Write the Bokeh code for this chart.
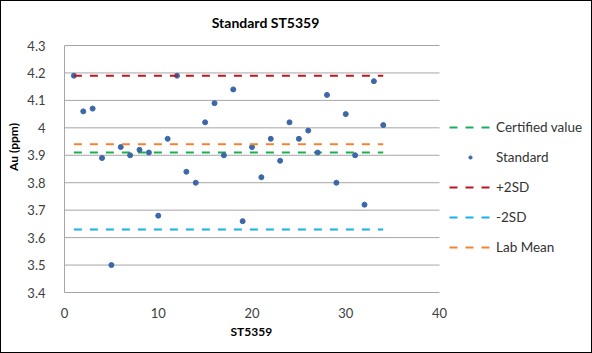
from bokeh.plotting import figure
from bokeh.models import Legend, LegendItem, FixedTicker, Range1d, Label, Title
from bokeh.embed import file_html
from bokeh.resources import INLINE

# ---- data ----
sample_no = list(range(1, 35))
au_ppm = [4.19, 4.06, 4.07, 3.89, 3.50, 3.93, 3.90, 3.92, 3.91, 3.68,
          3.96, 4.19, 3.84, 3.80, 4.02, 4.09, 3.90, 4.14, 3.66, 3.93,
          3.82, 3.96, 3.88, 4.02, 3.96, 3.99, 3.91, 4.12, 3.80, 4.05,
          3.90, 3.72, 4.17, 4.01]
certified_value = 3.91
plus_2sd = 4.19
minus_2sd = 3.63
lab_mean = 3.94
x_ticks = [0, 10, 20, 30, 40]
y_ticks = [3.4, 3.5, 3.6, 3.7, 3.8, 3.9, 4.0, 4.1, 4.2, 4.3]
y_tick_labels = ["3.4", "3.5", "3.6", "3.7", "3.8", "3.9", "4", "4.1", "4.2", "4.3"]
title_text = "Standard ST5359"
x_title = "ST5359"
y_title = "Au (ppm)"

FONT = "Lato"

# frame spans from the y axis to the right/top edges so the legend and
# title (drawn inside the frame) are not clipped; axes are bounded to data span
X_PX_PER_UNIT = 375 / 40.0
Y_PX_PER_UNIT = 247 / 0.9
FRAME_W = 592 - 63
FRAME_H = 353 - 62
x_end = x_ticks[0] + FRAME_W / X_PX_PER_UNIT
y_end = y_ticks[0] + FRAME_H / Y_PX_PER_UNIT

p = figure(width=592, height=353, output_backend="svg", toolbar_location=None,
           x_range=Range1d(x_ticks[0], x_end), y_range=Range1d(y_ticks[0], y_end),
           min_border_left=63, min_border_right=0, min_border_top=0,
           min_border_bottom=62)
p.styles = {"border": "1px solid black", "box-sizing": "border-box"}

p.outline_line_color = None
p.xgrid.grid_line_color = None
p.ygrid.grid_line_color = None

# horizontal gridlines limited to the x axis span
p.segment(x0=x_ticks[0], x1=x_ticks[-1], y0=y_ticks[1:], y1=y_ticks[1:],
          line_color="#A6A6A6", line_width=1)

p.xaxis.ticker = FixedTicker(ticks=x_ticks)
p.yaxis.ticker = FixedTicker(ticks=y_ticks)
p.xaxis.bounds = (x_ticks[0], x_ticks[-1])
p.yaxis.bounds = (y_ticks[0], y_ticks[-1])
p.yaxis.major_label_overrides = {t: l for t, l in zip(y_ticks, y_tick_labels)}
for ax in (p.xaxis, p.yaxis):
    ax.axis_line_color = "#A6A6A6"
    ax.major_tick_line_color = None
    ax.minor_tick_line_color = None
    ax.major_label_text_font = FONT
    ax.major_label_text_font_size = "13px"
    ax.major_label_text_color = "#404040"
    ax.axis_label_text_font = FONT
    ax.axis_label_text_font_size = "12px"
    ax.axis_label_text_font_style = "bold"
    ax.axis_label_text_color = "#000000"
p.yaxis.axis_label = y_title
p.yaxis.major_label_standoff = 13
p.xaxis.major_label_standoff = 9
p.yaxis.axis_label_standoff = 3

# x axis title centred under the bounded axis
p.add_layout(Title(text=x_title, align="left", offset=166, standoff=2,
                   text_font=FONT, text_font_size="12px", text_font_style="bold",
                   text_color="#000000"), "below")

x_line = [min(sample_no), max(sample_no)]
dash = "8 8"
r_cert = p.line(x_line, [certified_value] * 2, line_color="#1FAE55", line_width=2, line_dash=dash)
r_std = p.scatter(sample_no, au_ppm, size=5, marker="circle", fill_color="#3C68A8", line_color="#3C68A8")
r_p2 = p.line(x_line, [plus_2sd] * 2, line_color="#C0141E", line_width=2, line_dash=dash)
r_m2 = p.line(x_line, [minus_2sd] * 2, line_color="#1AAFE6", line_width=2, line_dash=dash)
r_lab = p.line(x_line, [lab_mean] * 2, line_color="#EE8533", line_width=2, line_dash=dash)

# title
p.add_layout(Label(x=(264 - 63) / X_PX_PER_UNIT, y=y_end - 21 / Y_PX_PER_UNIT,
                   text=title_text, text_align="center", text_baseline="middle",
                   text_font=FONT, text_font_size="14px", text_font_style="bold",
                   text_color="#000000"))

legend = Legend(items=[
    LegendItem(label="Certified value", renderers=[r_cert]),
    LegendItem(label="Standard", renderers=[r_std]),
    LegendItem(label="+2SD", renderers=[r_p2]),
    LegendItem(label="-2SD", renderers=[r_m2]),
    LegendItem(label="Lab Mean", renderers=[r_lab]),
], location=(385, 35))
legend.glyph_width = 42
legend.glyph_height = 8
legend.label_height = 20
legend.spacing = 10
legend.padding = 0
legend.margin = 0
legend.label_standoff = 5
legend.border_line_color = None
legend.background_fill_alpha = 0
legend.label_text_font = FONT
legend.label_text_font_size = "13.5px"
legend.label_text_color = "#333333"
p.add_layout(legend, "center")

open("out.html", "w").write(file_html(p, INLINE))
